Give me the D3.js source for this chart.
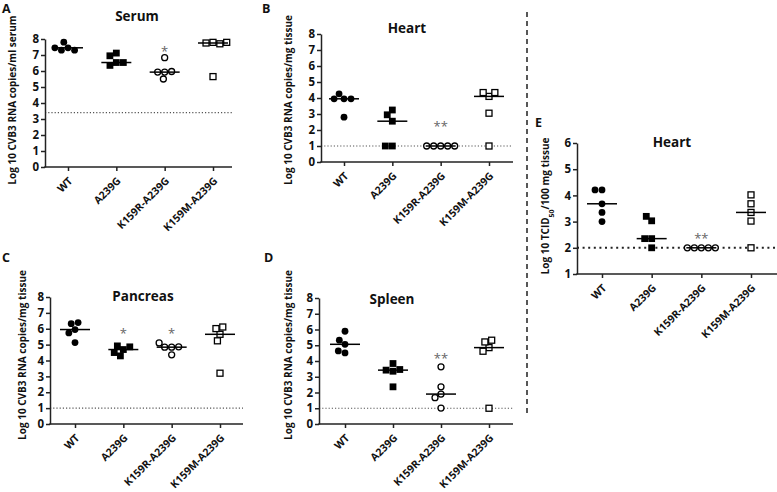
<!DOCTYPE html>
<html><head><meta charset="utf-8">
<script src="https://cdn.jsdelivr.net/npm/d3@7"></script>
<style>
body{margin:0;background:#fff}
text{font-family:"Open Sans",sans-serif;fill:#111;font-weight:700}
</style>
</head><body>
<svg id="c" width="777" height="492"></svg>
<script>
// ---------------- data ----------------
const categories = ["WT", "A239G", "K159R-A239G", "K159M-A239G"];
const serumValues = [[7.45, 7.8, 7.3, 7.3, 7.45], [7.12, 6.95, 6.53, 6.35, 6.53], [5.93, 5.5, 5.93, 5.97, 6.83], [7.79, 7.75, 7.7, 7.79, 5.65]];
const heartRnaValues = [[3.95, 4.26, 3.95, 3.95, 2.8], [3.25, 2.95, 2.55, 1, 1], [1, 1, 1, 1, 1], [4.1, 4.34, 4.34, 3.05, 1]];
const pancreasValues = [[5.95, 6.32, 6.39, 5.74, 5.13], [4.69, 4.92, 4.86, 4.29, 4.5], [4.84, 4.84, 4.86, 5.11, 4.36], [5.65, 6.01, 6.11, 5.24, 3.2]];
const spleenValues = [[5.06, 5.89, 5.32, 4.51, 4.64], [3.84, 3.35, 2.36, 3.42, 3.46], [3.63, 2.36, 1.9, 1.67, 1.01], [4.85, 5.21, 5.32, 4.62, 1.0]];
const heartTcidValues = [[3.68, 3.35, 3.0, 4.21, 4.21], [2.35, 2.35, 2.0, 3.03, 3.2], [2, 2, 2, 2, 2], [3.35, 3.68, 3.02, 4.02, 2.0]];
const serumStars = ["", "", "*", ""];
const heartRnaStars = ["", "", "**", ""];
const pancreasStars = ["", "*", "*", ""];
const spleenStars = ["", "", "**", ""];
const heartTcidStars = ["", "", "**", ""];
const serumStarLevels = [null, null, 7.4, null];
const heartRnaStarLevels = [null, null, 2.4, null];
const pancreasStarLevels = [null, 5.84, 5.84, null];
const spleenStarLevels = [null, null, 4.3, null];
const heartTcidStarLevels = [null, null, 2.45, null];
const rnaTicks = [0, 1, 2, 3, 4, 5, 6, 7, 8];
const tcidTicks = [1, 2, 3, 4, 5, 6];
const serumLimit = 3.4, tissueLimit = 1, tcidLimit = 2;

// ---------------- layout ----------------
const svg = d3.select("#c");
const panels = [
  {letter: "A", lx: 2, ly: 13, title: "Serum", tx: 137, ty: 21, values: serumValues, stars: serumStars, starLv: serumStarLevels,
   ax: 45, xEnd: 232, y0: 167, y1: 39, domain: [0, 8], ticks: rnaTicks, cats: [68, 213], limit: serumLimit,
   ylabel: "Log 10 CVB3 RNA copies/ml serum", ylx: 16, yly: 100},
  {letter: "B", lx: 262, ly: 13, title: "Heart", tx: 407, ty: 33, values: heartRnaValues, stars: heartRnaStars, starLv: heartRnaStarLevels,
   ax: 321, xEnd: 513, y0: 162, y1: 34, domain: [0, 8], ticks: rnaTicks, cats: [344, 489], limit: tissueLimit,
   ylabel: "Log 10 CVB3 RNA copies/mg tissue", ylx: 292, yly: 100},
  {letter: "C", lx: 2, ly: 262, title: "Pancreas", tx: 143, ty: 301, values: pancreasValues, stars: pancreasStars, starLv: pancreasStarLevels,
   ax: 50, xEnd: 243, y0: 424, y1: 297, domain: [0, 8], ticks: rnaTicks, cats: [75, 220], limit: tissueLimit,
   ylabel: "Log 10 CVB3 RNA copies/mg tissue", ylx: 26, yly: 355},
  {letter: "D", lx: 264, ly: 262, title: "Spleen", tx: 392, ty: 304, values: spleenValues, stars: spleenStars, starLv: spleenStarLevels,
   ax: 319, xEnd: 513, y0: 424, y1: 298, domain: [0, 8], ticks: rnaTicks, cats: [345, 489], limit: tissueLimit,
   ylabel: "Log 10 CVB3 RNA copies/mg tissue", ylx: 292, yly: 355},
  {letter: "E", lx: 535, ly: 127, title: "Heart", tx: 672, ty: 147, values: heartTcidValues, stars: heartTcidStars, starLv: heartTcidStarLevels,
   ax: 577, xEnd: 777, y0: 274, y1: 143, domain: [1, 6], ticks: tcidTicks, cats: [602, 751], limit: tcidLimit,
   ylabel: null, ylx: 549, yly: 206, heavyDots: true}
];

// separator
svg.append("line").attr("x1", 527).attr("x2", 527).attr("y1", 12).attr("y2", 413)
  .attr("stroke", "#111").attr("stroke-width", 1.4).attr("stroke-dasharray", "5,4");

function swarm(vals, y, D) {
  const placed = [];
  vals.forEach(v => {
    const py = y(v);
    const cands = [0];
    const conf = placed.filter(p => Math.abs(p.y - py) < D).map(p => ({x: p.x, w: Math.sqrt(D * D - (p.y - py) ** 2)}));
    conf.forEach(c => { cands.push(c.x - c.w, c.x + c.w); });
    cands.sort((a, b) => Math.abs(a) - Math.abs(b) || a - b);
    const ok = cands.find(cx => conf.every(c => Math.abs(cx - c.x) >= c.w - 1e-6));
    placed.push({x: ok, y: py, v});
  });
  return placed;
}

panels.forEach(P => {
  const g = svg.append("g");
  const y = d3.scaleLinear().domain(P.domain).range([P.y0, P.y1]);
  const x = d3.scalePoint().domain(categories).range(P.cats);

  g.append("text").attr("x", P.lx).attr("y", P.ly).text(P.letter).style("font-size", "12.5px");
  g.append("text").attr("x", P.tx).attr("y", P.ty).attr("text-anchor", "middle").text(P.title).style("font-size", "13.5px");

  const yl = g.append("text").attr("transform", `translate(${P.ylx},${P.yly}) rotate(-90)`)
    .attr("text-anchor", "middle").style("font-size", "10px");
  if (P.ylabel) yl.text(P.ylabel);
  else {
    yl.append("tspan").text("Log 10 TCID");
    yl.append("tspan").attr("baseline-shift", "sub").style("font-size", "7px").text("50");
    yl.append("tspan").text("/100 mg tissue");
  }

  g.append("line").attr("x1", P.ax).attr("x2", P.xEnd).attr("y1", y(P.limit)).attr("y2", y(P.limit))
    .attr("stroke", P.heavyDots ? "#222" : "#555").attr("stroke-width", P.heavyDots ? 2 : 1.1)
    .attr("stroke-dasharray", P.heavyDots ? "2,3.6" : "1.2,2");

  const ya = g.append("g").attr("transform", `translate(${P.ax},0)`)
    .call(d3.axisLeft(y).tickValues(P.ticks).tickSize(4).tickSizeOuter(0).tickFormat(d3.format("d")));
  ya.select(".domain").attr("stroke", "#222").attr("stroke-width", 1.5);
  ya.selectAll(".tick line").attr("stroke", "#222").attr("stroke-width", 1.5);
  ya.selectAll(".tick text").attr("x", -6).style("font-size", "11.5px").style("font-weight", "700")
    .style("font-family", "'Open Sans', sans-serif").attr("fill", "#111");

  g.append("line").attr("x1", P.ax - 0.75).attr("x2", P.xEnd).attr("y1", P.y0).attr("y2", P.y0)
    .attr("stroke", "#222").attr("stroke-width", 1.5);
  const xa = g.append("g").attr("transform", `translate(0,${P.y0})`)
    .call(d3.axisBottom(x).tickSize(4).tickSizeOuter(0));
  xa.select(".domain").remove();
  xa.selectAll(".tick line").attr("stroke", "#222").attr("stroke-width", 1.5);
  xa.selectAll(".tick text").attr("x", 0).attr("y", 0).attr("dy", "0.35em")
    .attr("transform", "translate(2,12) rotate(-45)").attr("text-anchor", "end")
    .style("font-size", "10.5px").style("font-weight", "700").style("font-family", "'Open Sans', sans-serif").attr("fill", "#111");

  P.values.forEach((vals, ci) => {
    const cx = x(categories[ci]);
    const pts = swarm(vals, y, 7);
    const filled = ci < 2, circle = ci % 2 === 0;
    pts.forEach(p => {
      if (circle) g.append("circle").attr("cx", cx + p.x).attr("cy", p.y).attr("r", filled ? 3.4 : 3)
        .attr("fill", filled ? "#000" : "#fff").attr("stroke", "#000").attr("stroke-width", filled ? 0 : 1.3);
      else { const s = filled ? 6.8 : 6; g.append("rect").attr("x", cx + p.x - s / 2).attr("y", p.y - s / 2).attr("width", s).attr("height", s)
        .attr("fill", filled ? "#000" : "#fff").attr("stroke", "#000").attr("stroke-width", filled ? 0 : 1.3); }
    });
    const med = d3.median(vals);
    g.append("line").attr("x1", cx - 15).attr("x2", cx + 15).attr("y1", y(med)).attr("y2", y(med))
      .attr("stroke", "#000").attr("stroke-width", 1.5);
    if (P.stars[ci]) g.append("text").attr("x", cx).attr("y", y(P.starLv[ci]) + 7).attr("text-anchor", "middle")
      .text(P.stars[ci]).style("font-size", "13px").style("font-weight", "400").style("fill", "#666");
  });
});
</script>
</body></html>
